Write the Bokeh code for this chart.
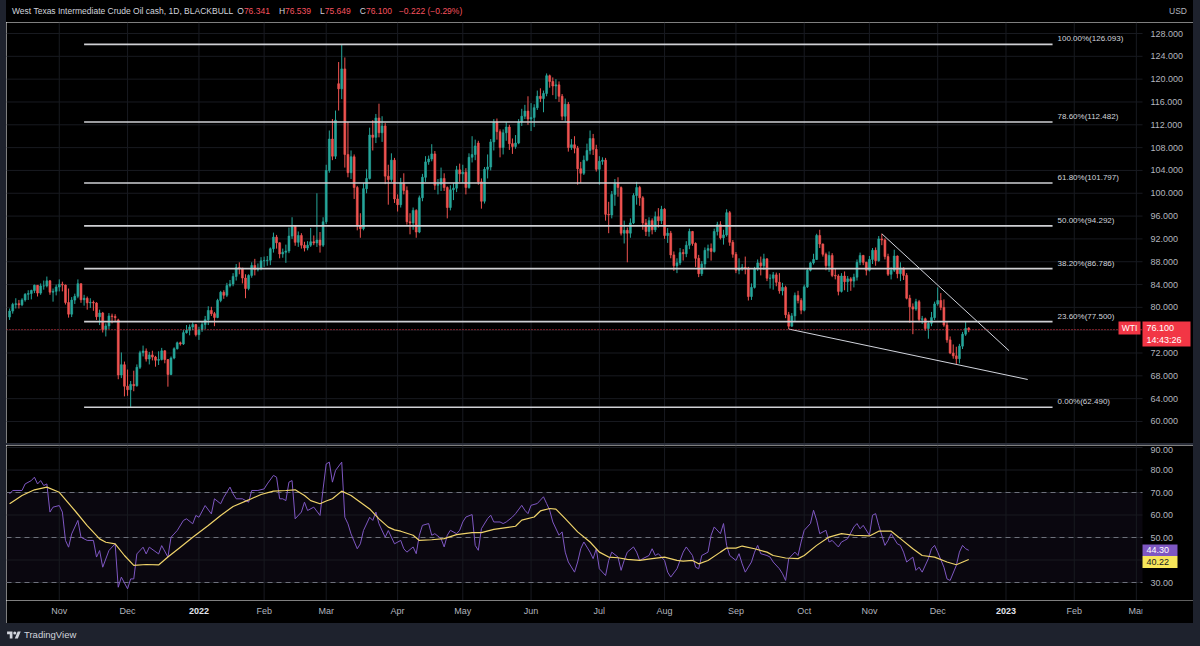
import pandas as pd
from bokeh.plotting import figure
from bokeh.models import Range1d, Label, Div, ColumnDataSource, BoxAnnotation
from bokeh.layouts import column, row
from bokeh.embed import file_html
from bokeh.resources import INLINE
from bokeh.core.properties import value

# ------------------------------------------------------------------ data
first_day = "2021-10-08"
title_text = "West Texas Intermediate Crude Oil cash, 1D, BLACKBULL"
header_ohlc = [("O", "76.341"), ("H", "76.539"), ("L", "75.649"), ("C", "76.100")]
header_change = "\u22120.222 (\u22120.29%)"

opens = [
    78.30, 79.35, 80.52, 80.64, 80.44, 81.31, 82.28, 82.44, 82.96, 83.87, 82.50, 83.76, 83.76, 84.65, 82.66, 82.81,
    83.57, 84.05, 83.91, 80.86, 78.81, 81.27, 81.93, 84.15, 81.34, 81.59, 80.79, 80.88, 80.76, 78.36, 79.01, 76.10, 76.75, 78.50, 78.39, 77.80, 68.15, 69.95,
    66.18, 65.57, 66.50, 66.26, 69.49, 72.05, 72.36, 70.94, 71.67, 71.29, 70.73, 70.87, 72.38, 70.86, 68.23, 71.12, 72.76, 73.79, 73.60, 75.57, 75.98, 76.56, 76.99,
    75.21, 76.08, 76.99, 77.85, 79.46, 78.90, 78.23, 81.22, 82.64, 82.12, 83.82, 84.10, 85.43, 86.96, 86.90, 85.14, 83.31, 85.60, 87.35, 86.61, 86.82,
    88.15, 88.20, 88.26, 90.27, 92.31, 91.32, 89.36, 89.66, 89.88, 92.50, 94.20, 91.40, 92.60, 90.90, 90.40, 90.90, 91.50, 91.30, 91.80, 90.90,
    95.00, 104.0, 109.5, 106.5, 119.2, 118.3, 121.8, 106.8, 103.6, 106.4, 101.0, 94.3, 93.8, 100.8, 102.6, 110.2, 109.8, 113.2, 110.6, 111.8, 103.0, 102.4, 105.8,
    99.0, 98.0, 101.8, 100.5, 95.0, 94.8, 97.0, 93.2, 99.2, 102.8, 105.5, 106.0, 106.9, 101.4, 101.6, 102.6, 101.0, 97.5, 100.6, 100.9, 104.1,
    103.4, 103.7, 101.0, 106.3, 106.8, 108.8, 102.0, 98.6, 104.2, 104.6, 109.0, 112.5, 110.8, 108.0, 110.6, 111.6, 108.7, 108.2, 108.8, 112.5, 113.5, 114.4,
    113.0, 113.3, 115.0, 117.0, 116.6, 117.5, 120.6, 119.6, 118.8, 119.0, 117.0, 113.5, 115.6, 108.0, 108.5, 107.9, 104.3, 103.5, 105.8, 107.5, 109.6, 107.7,
    104.2, 105.6, 105.8, 96.3, 96.2, 99.8, 101.8, 101.0, 93.0, 93.5, 93.0, 94.8, 99.6, 101.0, 99.2, 94.8, 93.3, 95.2, 93.6, 95.9, 95.2,
    97.2, 92.6, 93.0, 89.2, 87.3, 87.8, 89.6, 89.4, 90.9, 93.3, 91.2, 88.6, 85.9, 87.6, 90.0, 90.3, 89.8, 93.3, 94.5, 92.2, 92.7, 96.6, 91.4,
    89.3, 86.5, 86.8, 87.0, 86.9, 81.9, 83.5, 86.8, 87.8, 87.3, 88.5, 85.1, 85.1, 85.7, 84.4, 82.9, 83.5, 78.7, 76.7, 78.5, 82.1, 81.2,
    79.5, 83.6, 86.5, 87.8, 88.4, 92.6, 91.1, 89.3, 87.3, 89.1, 85.6, 85.5, 82.8, 85.5, 84.5, 85.0, 84.6, 85.3, 87.9, 89.1, 87.9,
    86.5, 88.4, 90.0, 88.2, 92.0, 91.8, 88.9, 85.8, 86.5, 89.0, 85.9, 86.9, 85.6, 81.6, 80.1, 79.7, 81.0, 77.9, 78.0, 76.3, 77.2, 78.2,
    80.6, 81.2, 80.0, 76.9, 74.3, 72.0, 71.5, 71.0, 73.2, 75.3, 76.341,
]
highs = [
    79.80, 80.80, 81.60, 81.30, 81.60, 82.50, 83.00, 83.10, 84.00, 83.90, 84.20, 84.70, 85.40, 84.80, 83.30, 84.00,
    84.90, 84.50, 84.00, 83.30, 81.80, 82.40, 84.90, 84.20, 82.20, 81.90, 81.60, 81.20, 80.90, 79.60, 79.20, 77.20, 79.00, 78.90, 78.80, 78.00, 72.10, 70.50,
    69.10, 67.10, 68.90, 70.00, 72.40, 73.30, 72.80, 72.20, 72.40, 71.50, 72.30, 72.90, 72.50, 70.90, 71.40, 73.00, 74.00, 74.00, 76.00, 76.90, 77.00, 77.40, 77.10,
    76.60, 77.60, 78.50, 80.20, 80.10, 79.20, 81.50, 82.90, 83.00, 84.30, 84.80, 86.00, 87.60, 87.90, 86.90, 85.80, 85.80, 87.90, 88.50, 87.70, 88.80,
    88.90, 89.00, 90.50, 93.10, 92.70, 91.40, 90.30, 91.00, 94.00, 95.80, 94.40, 93.30, 93.00, 91.50, 91.60, 93.90, 92.60, 100.00, 93.20, 95.80,
    105.0, 111.0, 113.0, 114.5, 123.0, 126.093, 123.8, 112.5, 107.5, 106.8, 101.3, 96.5, 101.8, 104.2, 111.5, 112.8, 113.9, 115.7, 113.5, 112.3, 105.0, 107.0, 106.2,
    99.8, 102.7, 103.5, 101.2, 96.5, 97.5, 97.2, 99.6, 103.4, 106.5, 106.6, 108.6, 107.4, 102.5, 104.5, 103.5, 101.2, 101.4, 101.8, 104.8, 105.2,
    105.0, 104.4, 107.0, 110.0, 109.4, 109.2, 102.6, 104.6, 106.8, 109.5, 113.0, 113.1, 111.2, 111.2, 112.5, 112.0, 109.6, 110.2, 113.0, 114.8, 115.5, 117.0,
    115.8, 115.6, 118.0, 118.4, 118.0, 121.0, 120.8, 120.3, 120.0, 119.6, 117.4, 116.6, 116.0, 109.5, 110.0, 108.3, 105.5, 106.6, 108.7, 111.0, 110.4, 108.5,
    106.5, 106.3, 106.2, 98.5, 100.4, 102.5, 102.8, 101.2, 95.2, 94.0, 95.6, 100.0, 102.0, 101.3, 99.5, 95.5, 95.8, 95.6, 96.8, 97.4, 97.8,
    97.4, 93.9, 93.4, 89.8, 88.6, 90.4, 90.2, 91.6, 93.8, 93.4, 91.4, 89.2, 88.1, 90.5, 91.0, 91.2, 93.8, 95.0, 95.1, 93.6, 97.2, 96.9, 91.8,
    89.7, 88.6, 87.6, 88.9, 87.1, 84.2, 87.1, 88.4, 88.9, 89.4, 88.6, 85.8, 86.2, 86.1, 86.0, 84.3, 83.8, 79.2, 79.0, 82.6, 82.9, 81.6,
    84.0, 86.9, 88.0, 89.4, 92.9, 93.6, 91.2, 89.6, 89.8, 89.5, 86.8, 85.8, 86.0, 86.3, 85.5, 85.3, 85.9, 88.4, 89.6, 89.2, 88.0,
    89.0, 90.4, 90.5, 92.5, 92.9, 92.1, 89.4, 87.0, 90.1, 89.1, 87.9, 87.0, 86.0, 82.2, 80.7, 81.5, 81.3, 78.5, 78.2, 77.6, 79.2, 81.0,
    83.5, 82.5, 81.4, 77.6, 74.9, 73.5, 73.1, 73.6, 75.7, 77.6, 76.539,
]
lows = [
    77.80, 78.90, 79.80, 79.80, 80.20, 81.00, 81.30, 81.40, 82.50, 81.90, 82.20, 83.10, 83.50, 82.20, 81.00, 82.10,
    82.80, 82.80, 80.50, 78.20, 78.30, 80.60, 81.60, 80.80, 80.30, 79.60, 79.90, 79.40, 77.80, 76.90, 75.60, 74.90, 76.20, 77.20, 77.60, 67.40, 67.60, 64.40,
    64.50, 62.43, 65.30, 66.10, 69.20, 71.40, 70.50, 70.00, 70.70, 69.60, 69.90, 70.70, 70.20, 66.10, 68.10, 70.90, 72.60, 73.30, 73.40, 75.40, 75.10, 76.00, 74.90,
    74.30, 75.70, 76.20, 76.90, 78.50, 76.70, 78.10, 80.90, 81.50, 81.80, 83.50, 83.70, 84.70, 85.80, 84.20, 81.60, 83.00, 85.20, 85.60, 86.30, 86.50,
    87.10, 87.30, 87.40, 89.60, 90.30, 88.60, 88.70, 87.80, 89.50, 92.00, 90.80, 90.60, 90.30, 89.80, 90.00, 90.60, 90.90, 90.60, 89.60, 90.60,
    94.6, 103.6, 105.8, 106.0, 114.5, 116.5, 104.5, 102.8, 102.5, 99.0, 93.5, 92.2, 93.5, 100.0, 102.4, 107.5, 108.8, 109.8, 109.0, 101.6, 98.0, 102.0, 98.3,
    96.8, 97.5, 99.8, 94.5, 92.8, 93.6, 92.2, 93.0, 98.6, 102.0, 105.0, 105.6, 100.6, 99.8, 100.4, 100.4, 95.6, 97.0, 98.8, 100.2, 102.0,
    101.8, 99.8, 100.8, 105.4, 105.8, 101.5, 97.3, 98.2, 102.6, 104.0, 107.5, 109.4, 106.3, 106.8, 109.2, 107.6, 106.9, 107.8, 108.6, 111.8, 113.0, 112.0,
    110.9, 111.6, 114.6, 116.0, 114.2, 117.0, 118.5, 117.2, 116.5, 116.0, 112.8, 112.6, 107.3, 107.6, 107.0, 101.5, 101.8, 103.2, 105.6, 106.8, 106.7, 103.8,
    101.5, 105.0, 95.2, 93.0, 95.6, 97.8, 99.4, 92.6, 91.2, 87.9, 92.2, 94.6, 98.0, 97.8, 93.6, 92.5, 92.4, 92.8, 93.2, 94.0, 94.6,
    92.0, 91.3, 88.6, 86.4, 86.0, 87.4, 88.2, 88.8, 90.2, 90.8, 87.1, 85.3, 85.5, 86.8, 88.6, 88.2, 89.6, 92.6, 91.9, 91.0, 92.4, 90.8, 88.7,
    86.0, 85.8, 86.4, 85.8, 81.2, 81.3, 83.3, 86.4, 85.6, 86.6, 84.6, 83.3, 83.1, 83.7, 82.4, 82.1, 78.1, 76.2, 76.6, 77.5, 80.7, 78.8,
    79.3, 83.4, 86.3, 87.5, 88.3, 90.4, 88.9, 86.5, 86.2, 85.3, 84.9, 82.1, 82.6, 83.0, 82.7, 82.9, 83.5, 84.7, 87.4, 87.4, 85.6,
    86.3, 87.6, 87.3, 88.0, 90.9, 88.4, 85.5, 84.9, 86.2, 85.1, 84.6, 84.8, 81.4, 77.3, 75.3, 79.4, 77.4, 77.1, 75.9, 74.5, 76.7, 77.8,
    80.3, 79.5, 76.6, 73.8, 71.8, 71.0, 70.08, 70.2, 72.7, 75.0, 75.649,
]
closes = [
    79.35, 80.52, 80.64, 80.44, 81.31, 82.28, 82.44, 82.96, 83.87, 82.50, 83.76, 83.76, 84.65, 82.66, 82.81, 83.57,
    84.05, 83.91, 80.86, 78.81, 81.27, 81.93, 84.15, 81.34, 81.59, 80.79, 80.88, 80.76, 78.36, 79.01, 76.10, 76.75, 78.50, 78.39, 78.20, 68.15, 69.95, 66.18,
    65.57, 66.50, 66.26, 69.49, 72.05, 72.36, 70.94, 71.67, 71.29, 70.73, 70.87, 72.38, 70.86, 68.23, 71.12, 72.76, 73.79, 73.60, 75.57, 75.98, 76.56, 76.99, 75.21,
    76.08, 76.99, 77.85, 79.46, 78.90, 78.23, 81.22, 82.64, 82.12, 83.82, 84.10, 85.43, 86.96, 86.90, 85.14, 83.31, 85.60, 87.35, 86.61, 86.82, 88.15,
    88.20, 88.26, 90.27, 92.31, 91.32, 89.36, 89.66, 89.88, 92.50, 94.20, 91.40, 92.60, 90.90, 90.40, 90.90, 91.50, 91.30, 91.80, 90.90, 95.00,
    104.0, 109.5, 106.5, 112.8, 118.3, 121.8, 106.8, 103.6, 106.4, 101.0, 94.3, 93.8, 100.8, 102.6, 110.2, 109.8, 113.2, 110.6, 111.8, 103.0, 102.4, 105.8, 99.0,
    98.0, 101.8, 100.5, 95.0, 94.8, 97.0, 93.2, 99.2, 102.8, 105.5, 106.0, 106.9, 101.4, 101.6, 102.6, 101.0, 97.5, 100.6, 100.9, 104.1, 103.4,
    103.7, 101.0, 106.3, 106.8, 108.3, 102.0, 98.6, 104.2, 104.6, 109.0, 112.5, 110.8, 108.0, 110.6, 111.6, 108.7, 108.2, 108.8, 112.5, 113.5, 114.4, 113.0,
    113.3, 115.0, 117.0, 116.6, 117.5, 120.6, 119.6, 118.8, 119.0, 117.0, 113.5, 115.6, 108.0, 108.5, 107.9, 104.3, 103.5, 105.8, 107.5, 109.6, 107.7, 104.2,
    105.6, 105.8, 96.3, 96.2, 99.8, 101.8, 101.0, 93.0, 93.5, 93.0, 94.8, 99.6, 101.0, 99.2, 94.8, 93.3, 95.2, 93.6, 95.9, 95.2, 97.2,
    92.6, 93.0, 89.2, 87.3, 87.8, 89.6, 89.4, 90.9, 93.3, 91.2, 88.6, 85.9, 87.6, 90.0, 90.3, 89.8, 93.3, 94.5, 92.2, 92.7, 96.6, 91.4, 89.3,
    86.5, 86.8, 87.0, 86.9, 81.9, 83.5, 86.8, 87.8, 87.3, 88.5, 85.1, 85.1, 85.7, 84.4, 82.9, 83.5, 78.7, 76.7, 78.5, 82.1, 81.2, 79.5,
    83.6, 86.5, 87.8, 88.4, 92.6, 91.1, 89.3, 87.3, 89.1, 85.6, 85.5, 82.8, 85.5, 84.5, 85.0, 84.6, 85.3, 87.9, 89.1, 87.9, 86.5,
    88.4, 90.0, 88.2, 92.0, 91.8, 88.9, 85.8, 86.5, 89.0, 85.9, 86.9, 85.6, 81.6, 80.1, 79.7, 81.0, 77.9, 78.0, 76.3, 77.2, 78.2, 80.6,
    81.2, 80.0, 76.9, 74.3, 72.0, 71.5, 71.0, 73.2, 75.3, 76.322, 76.100,
]

# RSI(14): bar number (n-th candle) and value
rsi_bar = [0, 1, 4, 5, 7, 8, 9, 10, 11, 12, 13, 14, 16, 17, 18, 19, 20, 22, 23, 25, 27, 28, 29, 30, 32, 34, 35, 36, 38, 39,
           40, 41, 43, 44, 45, 48, 49, 51, 52, 54, 56, 57, 59, 60, 61, 63, 65, 66, 68, 69, 71, 72, 73, 75, 77, 78, 80, 82, 83, 85,
           86, 87, 88, 89, 90, 91, 92, 94, 95, 96, 98, 100, 101, 102, 103, 104, 105, 107, 108, 109, 110, 112, 113, 114, 116, 117, 118, 119, 121, 122, 124,
           126, 127, 128, 130, 131, 132, 133, 135, 136, 137, 139, 140, 141, 142, 144, 145, 146, 147, 149, 150, 151, 152, 154, 155, 156, 158, 159, 160, 162, 163,
           165, 166, 167, 168, 170, 171, 172, 173, 174, 175, 177, 178, 179, 180, 182, 183, 184, 185, 187, 188, 189, 190, 192, 193, 194, 196, 197, 198, 199, 201,
           202, 203, 204, 206, 207, 208, 209, 211, 212, 213, 215, 216, 217, 218, 220, 221, 222, 223, 225, 226, 227, 229, 230, 231, 232, 234, 235, 236, 237, 239,
           240, 241, 242, 244, 245, 246, 248, 249, 250, 251, 253, 254, 255, 256, 258, 259, 260, 261, 263, 264, 265, 267, 268, 269, 270, 272, 273, 274, 275, 277,
           278, 279, 280, 282, 283, 284, 286, 287, 288, 289, 291, 292, 293, 294, 296, 297, 298, 299, 301, 302, 303, 305, 306, 307, 308, 309]
rsi_val = [69.4, 70.9, 70.9, 73.8, 75.3, 76.8, 73.8, 75.3, 73.1, 73.8, 61.3, 63.5, 64.2, 61.3, 48.7, 45.7, 51.6, 57.6, 50.1, 48.7,
           48.7, 41.3, 44.2, 36.8, 44.2, 47.2, 27.9, 32.4, 27.2, 31.6, 31.6, 42.7, 45.7, 42.7, 45.7, 42.7, 46.4, 41.3, 50.1, 53.1,
           57.6, 58.3, 56.1, 59.8, 59.0, 64.2, 60.5, 67.2, 65.0, 67.9, 72.4, 69.4, 67.2, 67.2, 65.7, 70.9, 70.9, 71.6, 73.8, 77.6,
           76.8, 67.2, 67.2, 66.4, 74.6, 75.3, 58.3, 61.3, 65.7, 62.0, 63.5, 59.8, 71.6, 82.7, 83.5, 74.6, 79.8, 83.5, 59.0, 56.1,
           51.6, 45.0, 47.2, 53.1, 59.0, 57.6, 61.3, 56.1, 50.1, 53.1, 47.2,
           48.7, 45.0, 43.5, 45.8, 42.8, 51.0, 55.4, 56.2, 51.0, 51.7, 49.5, 45.8, 51.0, 53.2, 51.7, 53.2, 56.9, 59.1, 60.2, 46.5,
           44.3, 53.9, 58.4, 59.9, 56.9, 56.9, 56.2, 56.9, 59.1, 60.6, 64.3, 62.1, 60.6, 64.3, 65.1, 66.6, 68.1, 65.1, 62.1, 56.9,
           51.0, 52.5, 43.5, 39.1, 34.6, 39.1, 45.0, 48.0, 43.5, 40.6, 45.0, 36.1, 33.1, 39.8, 43.5, 41.3, 35.4, 39.8, 43.5, 45.8,
           43.5, 39.8, 40.6, 42.0, 45.0, 42.0, 42.8, 39.8, 34.6, 32.4, 36.1, 39.8, 43.5, 45.8, 42.0, 36.8, 36.1, 42.0, 43.5, 51.0,
           54.7, 51.7, 56.2, 46.5, 42.0, 39.8, 42.8, 38.3, 34.6, 39.1, 43.5, 46.5, 42.8, 42.0, 41.3, 39.1, 36.1, 33.9, 30.9, 40.6,
           43.5, 42.0, 48.0, 53.2, 56.2, 62.1, 57.7, 51.7, 53.2, 48.0, 48.7, 45.8, 48.0, 48.7, 49.5, 54.7, 56.2, 53.9, 55.4, 51.0,
           59.9, 60.6, 55.4, 46.5, 48.7, 51.7, 47.2, 46.5, 43.5, 39.1, 41.3, 35.4, 36.8, 34.6, 40.6, 45.0, 46.5, 43.5, 36.8, 31.6,
           30.9, 37.6, 43.5, 46.5, 45.0, 44.3]
# RSI-based moving average
ma_bar = [0, 4, 8, 12, 16, 21, 25, 29, 31, 34, 37, 40, 44, 48, 51, 55, 59, 64, 68, 72, 77, 81, 85, 89, 92, 95, 97, 100, 102, 104,
          107, 110, 113, 116, 119, 122, 124, 126, 130, 132, 136, 140, 144, 149, 152, 156, 160, 163, 165, 169, 171, 174, 176, 179, 183,
          187, 190, 193, 196, 199, 203, 207, 211, 215, 217, 220, 222, 225, 229, 231, 234, 236, 240, 244, 246, 250, 254, 256, 260, 264,
          268, 272, 277, 280, 284, 287, 291, 294, 298, 302, 305, 309]
ma_val = [65.0, 68.7, 71.2, 72.4, 70.1, 62.0, 55.3, 49.4, 47.9, 47.2, 42.0, 37.6, 38.0, 37.8, 41.3, 45.7, 50.1, 55.3, 59.8, 63.8,
          66.7, 69.1, 70.6, 70.9, 71.2, 68.7, 66.4, 65.0, 66.2, 67.2, 70.6, 68.7, 65.7, 62.7, 58.3, 54.6, 53.4, 52.8, 51.0, 48.7,
          49.0, 49.5, 51.3, 52.2, 52.2, 53.6, 54.4, 55.0, 57.7, 59.1, 61.8, 62.9, 62.6, 58.4, 52.5, 48.0, 43.5, 41.3, 41.0, 40.3,
          39.8, 40.6, 41.3, 39.8, 39.5, 39.8, 38.3, 39.8, 43.5, 45.3, 45.3, 46.2, 45.0, 43.5, 42.0, 40.9, 40.6, 42.0, 46.5, 50.2,
          51.7, 51.0, 50.7, 52.8, 52.8, 49.5, 45.0, 42.0, 41.3, 39.1, 37.9, 40.22]
rsi_last = 44.30
rsi_ma_last = 40.22

fib_ratios = [1.0, 0.786, 0.618, 0.5, 0.382, 0.236, 0.0]
fib_prices = [126.093, 112.482, 101.797, 94.292, 86.786, 77.500, 62.490]
fib_dates = ["2021-11-11", "2023-01-23"]
trend_upper_dates = ["2022-11-07", "2023-01-03"]
trend_upper_prices = [92.9, 72.4]
trend_lower_dates = ["2022-09-26", "2023-01-11"]
trend_lower_prices = [76.2, 67.36]
last_price = 76.100
countdown = "14:43:26"
symbol_tag = "WTI"
currency = "USD"
price_ticks = list(range(60, 129, 4))
rsi_ticks = [30, 40, 50, 60, 70, 80, 90]
rsi_levels = [70, 50, 30]

# ------------------------------------------------------------------ layout constants (pixels)
FONT = "Liberation Sans"
UP, DOWN = "#26a69a", "#ef5350"
GRID = "#181a20"
AXIS_TXT = "#b2b5be"
BG = "#000000"
FRAME_BG = "#1e222d"
TAG_RED = "#f23645"

PX_BAR = 3.104          # pixels per daily bar
FRAME_W = 1187          # chart + price scale (page x 6 .. 1193)
PLOT_RIGHT_PX = 1142    # where the price scale starts
X_LO = -1.0
X_HI = X_LO + FRAME_W / PX_BAR
PLOT_EDGE = X_LO + (PLOT_RIGHT_PX - 6) / PX_BAR

P_TOP, P_BOT, P_H, P_Y0 = 129.93, 56.14, 421, 22     # price pane: value range, height, page top
R_TOP, R_BOT, R_H, R_Y0 = 90.89, 22.0, 155, 445      # RSI pane


def xpx(px):
    return X_LO + (px - 6) / PX_BAR


def yprice(py):
    return P_TOP - (py - P_Y0) * (P_TOP - P_BOT) / P_H


def yrsi(py):
    return R_TOP - (py - R_Y0) * (R_TOP - R_BOT) / R_H


cal = pd.bdate_range(first_day, "2023-03-31")
pos = {d: i for i, d in enumerate(cal)}


def bar_of(s):
    return pos[pd.Timestamp(s)]


month_idx, month_lbl, month_year = [], [], []
prev = None
for i, d in enumerate(cal):
    key = (d.year, d.month)
    if key != prev:
        if prev is not None and i < PLOT_EDGE:
            month_idx.append(i)
            month_lbl.append(str(d.year) if d.month == 1 else d.strftime("%b"))
            month_year.append(d.month == 1)
        prev = key

x_range = Range1d(X_LO, X_HI)


def base_fig(frame_h, y_rng):
    f = figure(x_range=x_range, y_range=y_rng, frame_width=FRAME_W, frame_height=frame_h,
               min_border_left=0, min_border_right=0, min_border_top=0, min_border_bottom=0,
               x_axis_location=None, y_axis_location=None,
               toolbar_location=None, output_backend="svg",
               background_fill_color=BG, border_fill_color=BG, outline_line_color=None)
    for g in f.grid:
        g.visible = False
    return f


def grid_and_scale(f, ticks, fmt, y_lo, y_hi, top_tick=None):
    f.segment(x0=[X_LO] * len(ticks), x1=[PLOT_EDGE] * len(ticks), y0=ticks, y1=ticks,
              line_color=GRID, line_width=1)
    f.segment(x0=month_idx, x1=month_idx, y0=[y_lo] * len(month_idx), y1=[y_hi] * len(month_idx),
              line_color=GRID, line_width=1)
    mid = [v for v in ticks if v != top_tick]
    f.text(x=[xpx(1150)] * len(mid), y=mid, text=[fmt.format(v) for v in mid],
           text_font=value(FONT), text_font_size="9px", text_color=AXIS_TXT,
           text_align="left", text_baseline="middle")
    if top_tick is not None:
        # the top label sits right at the pane's upper edge: hang it from the edge
        f.text(x=[xpx(1150)], y=[y_hi], text=[fmt.format(top_tick)],
               text_font=value(FONT), text_font_size="9px", text_color=AXIS_TXT,
               text_align="left", text_baseline="top", y_offset=1)


# ------------------------------------------------------------------ price pane
p = base_fig(P_H, Range1d(P_BOT, P_TOP))
grid_and_scale(p, price_ticks, "{:.3f}", P_BOT, P_TOP)

n = len(closes)
cols = [UP if c >= o else DOWN for o, c in zip(opens, closes)]
src = ColumnDataSource(dict(
    x=list(range(n)), h=highs, l=lows,
    top=[max(o, c) for o, c in zip(opens, closes)],
    bot=[min(o, c) for o, c in zip(opens, closes)],
    col=cols))
p.segment(x0="x", y0="h", x1="x", y1="l", line_color="col", line_width=1, source=src)
p.vbar(x="x", width=0.62, top="top", bottom="bot", fill_color="col", line_color="col",
       line_width=0.6, source=src)

# fibonacci retracement
f0, f1 = bar_of(fib_dates[0]), bar_of(fib_dates[1])
p.segment(x0=[f0] * len(fib_prices), x1=[f1] * len(fib_prices), y0=fib_prices, y1=fib_prices,
          line_color="#cfd0d4", line_width=1.6)
p.text(x=[f1 + 1.6] * len(fib_prices), y=fib_prices,
       text=[f"{r * 100:.2f}%({v:.3f})" for r, v in zip(fib_ratios, fib_prices)],
       text_font=value(FONT), text_font_size="8px", text_color="#d1d4dc",
       text_align="left", text_baseline="bottom", y_offset=-1)

# trend lines
p.line([bar_of(d) for d in trend_upper_dates], trend_upper_prices, line_color="#d1d4dc", line_width=1)
p.line([bar_of(d) for d in trend_lower_dates], trend_lower_prices, line_color="#d1d4dc", line_width=1)

# last price line + tags
p.segment(x0=[X_LO], x1=[PLOT_EDGE], y0=[last_price], y1=[last_price],
          line_color=TAG_RED, line_dash="1 2", line_width=1)
p.add_layout(BoxAnnotation(left=xpx(1118), right=xpx(1140), top=yprice(321), bottom=yprice(334),
                           fill_color=TAG_RED, fill_alpha=1, line_color=None))
p.add_layout(Label(x=xpx(1129), y=yprice(327.5), text=symbol_tag, text_align="center",
                   text_baseline="middle", text_color="#ffffff", text_font=FONT, text_font_size="8.5px"))
p.add_layout(BoxAnnotation(left=xpx(1142), right=xpx(1190), top=yprice(321), bottom=yprice(346),
                           fill_color=TAG_RED, fill_alpha=1, line_color=None))
p.add_layout(Label(x=xpx(1146), y=yprice(327.5), text=f"{last_price:.3f}", text_align="left",
                   text_baseline="middle", text_color="#ffffff", text_font=FONT, text_font_size="9px"))
p.add_layout(Label(x=xpx(1146), y=yprice(339.5), text=countdown, text_align="left",
                   text_baseline="middle", text_color="#ffffff", text_font=FONT, text_font_size="9px"))

# ------------------------------------------------------------------ RSI pane
r = base_fig(R_H, Range1d(R_BOT, R_TOP))
r.add_layout(BoxAnnotation(bottom=30, top=70, left=X_LO, right=PLOT_EDGE, fill_color="#7e57c2",
                           fill_alpha=0.08, line_color=None, level="underlay"))
grid_and_scale(r, rsi_ticks, "{:.2f}", R_BOT, R_TOP, top_tick=90)
r.segment(x0=[X_LO] * len(rsi_levels), x1=[PLOT_EDGE] * len(rsi_levels), y0=rsi_levels, y1=rsi_levels,
          line_color="#787b86", line_dash="5 4", line_width=1, line_alpha=0.9)
r.line(rsi_bar, rsi_val, line_color="#7e57c2", line_width=1)
r.line(ma_bar, ma_val, line_color="#efd36a", line_width=1.2)
r.add_layout(BoxAnnotation(left=xpx(1142), right=xpx(1177), top=yrsi(544), bottom=yrsi(555.5),
                           fill_color="#7e57c2", fill_alpha=1, line_color=None))
r.add_layout(Label(x=xpx(1146), y=yrsi(549.8), text=f"{rsi_last:.2f}", text_align="left",
                   text_baseline="middle", text_color="#ffffff", text_font=FONT, text_font_size="9px"))
r.add_layout(BoxAnnotation(left=xpx(1142), right=xpx(1177), top=yrsi(555.5), bottom=yrsi(567.5),
                           fill_color="#f7e65a", fill_alpha=1, line_color=None))
r.add_layout(Label(x=xpx(1146), y=yrsi(561.5), text=f"{rsi_ma_last:.2f}", text_align="left",
                   text_baseline="middle", text_color="#131722", text_font=FONT, text_font_size="9px"))

# ------------------------------------------------------------------ time axis strip
t = base_fig(23, Range1d(0, 1))
m_norm = [(i, s) for i, s, y in zip(month_idx, month_lbl, month_year) if not y]
m_year = [(i, s) for i, s, y in zip(month_idx, month_lbl, month_year) if y]
t.text(x=[a for a, b in m_norm], y=[0.55] * len(m_norm), text=[b for a, b in m_norm],
       text_font=value(FONT), text_font_size="9px", text_color=AXIS_TXT,
       text_align="center", text_baseline="middle")
t.text(x=[a for a, b in m_year], y=[0.55] * len(m_year), text=[b for a, b in m_year],
       text_font=value(FONT), text_font_size="9px", text_color="#e0e3eb", text_font_style="bold",
       text_align="center", text_baseline="middle")
t.add_layout(BoxAnnotation(left=PLOT_EDGE, right=X_HI, fill_color=BG, fill_alpha=1, line_color=None))

# ------------------------------------------------------------------ header / frame
vals = "".join(
    f'<span style="margin-left:{4 if k == 0 else 9}px">{lab}<span style="color:#f7525f">{v}</span></span>'
    for k, (lab, v) in enumerate(header_ohlc))
header_html = (
    f'<div style="display:flex;justify-content:space-between;align-items:center;height:22px;width:1187px;'
    f'box-sizing:border-box;padding:0 6px 0 6px;font-family:\'{FONT}\',Arial,sans-serif;font-size:8.5px;color:#d1d4dc;">'
    f'<span>{title_text}{vals}<span style="margin-left:7px;color:#f7525f">{header_change}</span></span>'
    f'<span style="color:{AXIS_TXT}">{currency}</span></div>')
Z = (0, 0, 0, 0)
header = Div(text=header_html, width=1187, height=22, margin=Z, styles={"background-color": BG})
sep = Div(text="", width=1187, height=2, margin=Z, styles={"background-color": "#2a2e39"})
left = Div(text="", width=6, height=623, margin=Z, styles={"background-color": FRAME_BG})
right = Div(text="", width=7, height=623, margin=Z, styles={"background-color": FRAME_BG})
logo_html = (
    '<div style="display:flex;align-items:center;height:23px;padding-left:7px;'
    f'font-family:\'{FONT}\',Arial,sans-serif;font-size:9.5px;color:#d1d4dc;">'
    '<svg width="14" height="10" viewBox="0 0 36 26" style="margin-right:3px">'
    '<path d="M14 22H7V11H0V4h14v18zM28 22h-8l7.5-18h8L28 22z" fill="#d1d4dc"/>'
    '<circle cx="20" cy="8" r="4" fill="#d1d4dc"/></svg>TradingView</div>')
logo = Div(text=logo_html, width=1200, height=23, margin=Z, styles={"background-color": FRAME_BG})

page = column(row(left, column(header, p, sep, r, t, spacing=0), right, spacing=0), logo, spacing=0)
open("out.html", "w").write(file_html(page, INLINE, "WTI"))
